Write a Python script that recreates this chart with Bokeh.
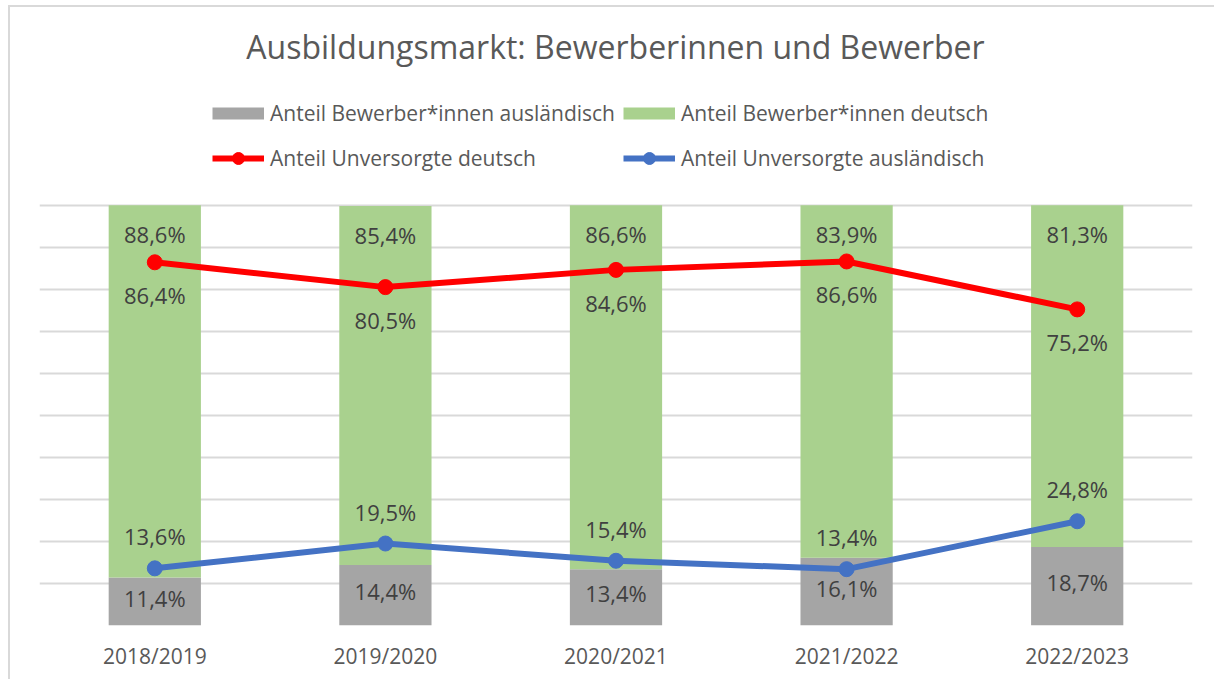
from bokeh.plotting import figure
from bokeh.models import (ColumnDataSource, FactorRange, Range1d, LabelSet, Label,
                          Legend, LegendItem, FixedTicker)
from bokeh.embed import file_html
from bokeh.resources import INLINE
from bokeh.core.properties import value

# ---------------- data ----------------
years = ["2018/2019", "2019/2020", "2020/2021", "2021/2022", "2022/2023"]
bewerber_auslaendisch = [11.4, 14.4, 13.4, 16.1, 18.7]
bewerber_deutsch = [88.6, 85.4, 86.6, 83.9, 81.3]
unversorgte_deutsch = [86.4, 80.5, 84.6, 86.6, 75.2]
unversorgte_auslaendisch = [13.6, 19.5, 15.4, 13.4, 24.8]
grid_ticks = [0, 10, 20, 30, 40, 50, 60, 70, 80, 90, 100]

title_text = "Ausbildungsmarkt: Bewerberinnen und Bewerber"
legend_labels = ["Anteil Bewerber*innen ausländisch", "Anteil Bewerber*innen deutsch",
                 "Anteil Unversorgte deutsch", "Anteil Unversorgte ausländisch"]

GRAY, GREEN, RED, BLUE = "#A5A5A5", "#A9D18E", "#FF0000", "#4472C4"
FONT = "Open Sans"


def fmt(v):
    return f"{v:.1f}".replace(".", ",") + "%"


source = ColumnDataSource(dict(
    cat=years,
    gray=bewerber_auslaendisch,
    green=bewerber_deutsch,
    red=unversorgte_deutsch,
    blue=unversorgte_auslaendisch,
    gray_mid=[g / 2 for g in bewerber_auslaendisch],
    top=[g + d for g, d in zip(bewerber_auslaendisch, bewerber_deutsch)],
    gray_lbl=[fmt(v) for v in bewerber_auslaendisch],
    green_lbl=[fmt(v) for v in bewerber_deutsch],
    red_lbl=[fmt(v) for v in unversorgte_deutsch],
    blue_lbl=[fmt(v) for v in unversorgte_auslaendisch],
))

# ---------------- layout ----------------
W, H = 1206, 674            # outer size incl. 2px left/top border
BL, BR, BT, BB = 29, 24, 0, 56
PLOT_PX = 419               # pixel height of the 0..100 % span
TOP_GAP = 197               # pixels above 100 % reserved for title + legend
Y_TOP = 100 * (PLOT_PX + TOP_GAP) / PLOT_PX

p = figure(width=W, height=H, x_range=FactorRange(*years, range_padding=0),
           y_range=Range1d(0, Y_TOP), output_backend="svg", toolbar_location=None,
           min_border_left=BL, min_border_right=BR, min_border_top=BT,
           min_border_bottom=BB)
p.styles = {"margin-left": "8px", "margin-top": "5px",
            "border-left": "2px solid #D9D9D9", "border-top": "2px solid #D9D9D9"}
p.title.visible = False
p.outline_line_color = None
p.background_fill_color = "white"
p.border_fill_color = "white"

p.yaxis.visible = False
p.xgrid.visible = False
p.ygrid.ticker = FixedTicker(ticks=grid_ticks)
p.ygrid.grid_line_color = "#D9D9D9"
p.ygrid.grid_line_width = 2

xa = p.xaxis[0]
xa.axis_line_color = None
xa.major_tick_line_color = None
xa.minor_tick_line_color = None
xa.major_tick_out = 0
xa.major_label_standoff = 16
xa.major_label_text_font = FONT
xa.major_label_text_font_size = "21px"
xa.major_label_text_color = "#595959"

# ---------------- marks ----------------
bars = p.vbar_stack(["gray", "green"], x="cat", width=0.4, color=[GRAY, GREEN],
                    line_color=None, source=source)

red_line = p.line("cat", "red", source=source, color=RED, line_width=6)
red_pts = p.scatter("cat", "red", source=source, size=15, color=RED)
blue_line = p.line("cat", "blue", source=source, color=BLUE, line_width=6)
blue_pts = p.scatter("cat", "blue", source=source, size=15, color=BLUE)

lbl_style = dict(source=source, text_align="center", text_baseline="middle",
                 text_font=value(FONT), text_font_size="22px", text_color="#404040")
p.add_layout(LabelSet(x="cat", y="top", text="green_lbl", y_offset=-29, **lbl_style))
p.add_layout(LabelSet(x="cat", y="gray_mid", text="gray_lbl", y_offset=4, **lbl_style))
p.add_layout(LabelSet(x="cat", y="red", text="red_lbl", y_offset=-33, **lbl_style))
p.add_layout(LabelSet(x="cat", y="blue", text="blue_lbl", y_offset=32, **lbl_style))

# ---------------- legend ----------------
# legend-only swatches (no visible data: a single NaN point)
swatch_src = ColumnDataSource(dict(x=[years[0]], y=[float("nan")]))
sw_gray = p.line("x", "y", source=swatch_src, line_width=12, color=GRAY)
sw_green = p.line("x", "y", source=swatch_src, line_width=12, color=GREEN)

leg_style = dict(orientation="vertical", glyph_width=52, glyph_height=30,
                 label_height=30, spacing=15, padding=0, margin=0,
                 border_line_color=None, background_fill_alpha=0,
                 label_text_font=FONT, label_text_font_size="21px",
                 label_text_color="#595959", label_standoff=6)
leg_a = Legend(items=[LegendItem(label=legend_labels[0], renderers=[sw_gray]),
                      LegendItem(label=legend_labels[2], renderers=[red_line, red_pts])],
               location=(173, 452), **leg_style)
leg_b = Legend(items=[LegendItem(label=legend_labels[1], renderers=[sw_green]),
                      LegendItem(label=legend_labels[3], renderers=[blue_line, blue_pts])],
               location=(584, 452), **leg_style)
p.add_layout(leg_a)
p.add_layout(leg_b)

# ---------------- title ----------------
p.add_layout(Label(x=576, y=579, x_units="screen", y_units="screen",
                   text=title_text, text_align="center", text_baseline="middle",
                   text_font=FONT, text_font_size="32px", text_color="#595959"))

open("out.html", "w").write(file_html(p, INLINE))
